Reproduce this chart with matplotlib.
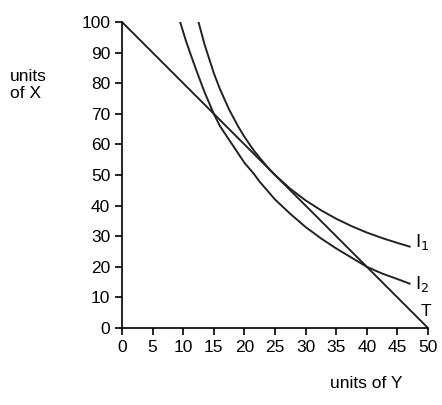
import matplotlib
matplotlib.use("Agg")
import matplotlib.pyplot as plt

plt.rcParams['font.family'] = ['Liberation Sans', 'DejaVu Sans']

t_x = [0, 50]
t_y = [100, 0]
i1_x = [11.8, 12.5, 13.5, 15, 16, 17.5, 19, 20, 21.5, 22.5, 24, 25, 27.5, 30, 32.5, 35, 37.5, 40, 42.5, 45, 47]
i1_y = [106, 100, 92.6, 83.3, 78.1, 71.4, 65.8, 62.5, 58.1, 55.6, 52.1, 50, 45.5, 41.7, 38.5, 35.7, 33.3, 31.2, 29.4, 27.8, 26.6]
i2_x = [9.5, 10.5, 12, 13.5, 15, 16, 17.5, 19, 20, 21.5, 22.5, 25, 27.5, 30, 32.5, 35, 37.5, 40, 42.5, 45, 47]
i2_y = [100, 93.5, 85, 77, 70, 66, 61.5, 57, 54, 50.5, 47.8, 42, 37.3, 33, 29.3, 26, 23, 20, 17.8, 16, 14.5]

fig = plt.figure(figsize=(4.42, 4.05), dpi=100)
ax = fig.add_axes([122/442, 1-328/405, (428-122)/442, (328-22)/405])
ax.plot(t_x, t_y, color='#222', lw=1.4)
ax.plot(i1_x, i1_y, color='#222', lw=1.4)
ax.plot(i2_x, i2_y, color='#222', lw=1.4)
ax.set_xlim(0, 50)
ax.set_ylim(0, 100)
ax.set_xticks(range(0, 51, 5))
ax.set_yticks(range(0, 101, 10))
for s in ['top', 'right']:
    ax.spines[s].set_visible(False)
for s in ['left', 'bottom']:
    ax.spines[s].set_linewidth(1.2)
ax.tick_params(labelsize=12.5, length=5, width=1.2)
ax.text(47.8, 28, r'$\mathrm{I}_1$', fontsize=13, va='center')
ax.text(47.8, 14.5, r'$\mathrm{I}_2$', fontsize=13, va='center')
ax.text(48.8, 5.5, 'T', fontsize=12.5, va='center')
fig.text(10/442, 1-85/405, 'units\nof X', fontsize=12.5, va='center', ha='left')
fig.text(330/442, 1-383/405, 'units of Y', fontsize=12.5, va='center', ha='left')
fig.savefig('out.png', dpi=100)
